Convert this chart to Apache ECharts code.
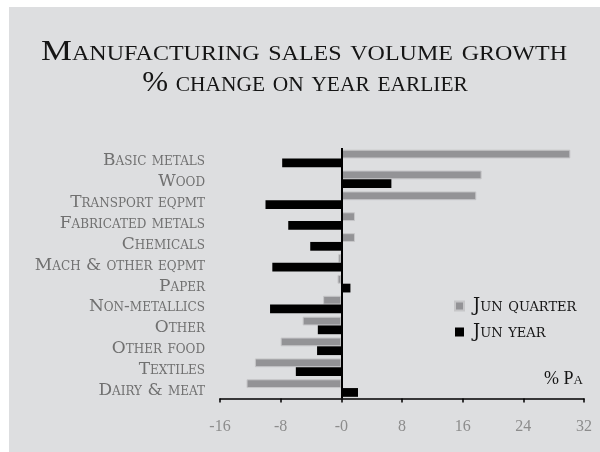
<!DOCTYPE html>
<html>
<head>
<meta charset="utf-8">
<script src="https://cdn.jsdelivr.net/npm/echarts@6/dist/echarts.min.js"></script>
<style>
  html, body { margin: 0; padding: 0; background: #fff; }
  #chart { width: 600px; height: 452px; }
</style>
</head>
<body>
<div id="chart"></div>
<script>
var categories = ['Basic metals', 'Wood', 'Transport eqpmt', 'Fabricated metals', 'Chemicals',
    'Mach & other eqpmt', 'Paper', 'Non-metallics', 'Other', 'Other food', 'Textiles', 'Dairy & meat'];
var junQuarter = [30.2, 18.5, 17.8, 1.8, 1.8, -0.4, -0.5, -2.4, -5.1, -8.0, -11.4, -12.5];
var junYear = [-7.8, 6.6, -10.0, -7.0, -4.1, -9.1, 1.2, -9.4, -3.1, -3.2, -6.0, 2.2];
var tickLabels = ['-16', '-8', '-0', '8', '16', '24', '32'];

var serif = '"Liberation Serif", "DejaVu Serif", serif';
var wideSerif = '"DejaVu Serif", serif';

var myChart = echarts.init(document.getElementById('chart'));

var option = {
    backgroundColor: '#dddee0',
    animation: false,
    graphic: [
        { type: 'rect', shape: { x: 0, y: 0, width: 9, height: 452 }, style: { fill: '#fff' }, silent: true },
        { type: 'rect', shape: { x: 0, y: 0, width: 600, height: 7 }, style: { fill: '#fff' }, silent: true },
        {
            type: 'text', x: 304, y: 52, scaleX: 1.2, silent: true,
            style: {
                text: 'Manufacturing sales volume growth', fill: '#151515',
                font: 'small-caps 29px ' + serif, textAlign: 'center', textVerticalAlign: 'middle'
            }
        },
        {
            type: 'text', x: 305, y: 83, scaleX: 1.07, silent: true,
            style: {
                text: '% change on year earlier', fill: '#151515',
                font: 'small-caps 29px ' + serif, textAlign: 'center', textVerticalAlign: 'middle'
            }
        },
        {
            type: 'text', x: 583, y: 379, silent: true,
            style: {
                text: '% Pa', fill: '#151515',
                font: 'small-caps 18px ' + serif, textAlign: 'right', textVerticalAlign: 'middle'
            }
        }
    ],
    grid: { left: 220, right: 16, top: 148, bottom: 53.5, containLabel: false },
    legend: {
        orient: 'vertical',
        left: 449, top: 292,
        itemWidth: 9, itemHeight: 9, itemGap: 8,
        icon: 'rect',
        data: ['Jun quarter', 'Jun year'],
        textStyle: { color: '#151515', fontSize: 18, fontFamily: wideSerif, fontStyle: 'small-caps', padding: [0, 0, 0, 4] }
    },
    xAxis: {
        type: 'value',
        min: -16, max: 32, interval: 8,
        splitLine: { show: false },
        axisLine: { show: true, lineStyle: { color: '#000', width: 1.5 } },
        axisTick: { show: true, length: 4, lineStyle: { color: '#000', width: 1.5 } },
        axisLabel: {
            margin: 20, color: '#8c8c8c', fontSize: 16, fontFamily: serif,
            formatter: function (v) { return tickLabels[Math.round((v + 16) / 8)]; }
        }
    },
    yAxis: {
        type: 'category',
        inverse: true,
        data: categories,
        axisLine: { show: false },
        axisTick: { show: false },
        axisLabel: {
            interval: 0, hideOverlap: false,
            margin: 15, color: '#707070', fontSize: 17, fontFamily: wideSerif, fontStyle: 'small-caps',
            verticalAlign: 'top', lineHeight: 5
        }
    },
    series: [
        {
            name: 'Jun quarter', type: 'bar', data: junQuarter,
            barGap: '0%', barCategoryGap: '16%',
            itemStyle: { color: '#939396', borderColor: '#c6c6c8', borderWidth: 1 }
        },
        {
            name: 'Jun year', type: 'bar', data: junYear,
            barGap: '0%', barCategoryGap: '16%',
            itemStyle: { color: '#000' },
            markLine: {
                silent: true, symbol: 'none', label: { show: false },
                lineStyle: { color: '#000', width: 2, type: 'solid' },
                data: [{ xAxis: 0 }]
            }
        }
    ]
};

myChart.setOption(option);
</script>
</body>
</html>
